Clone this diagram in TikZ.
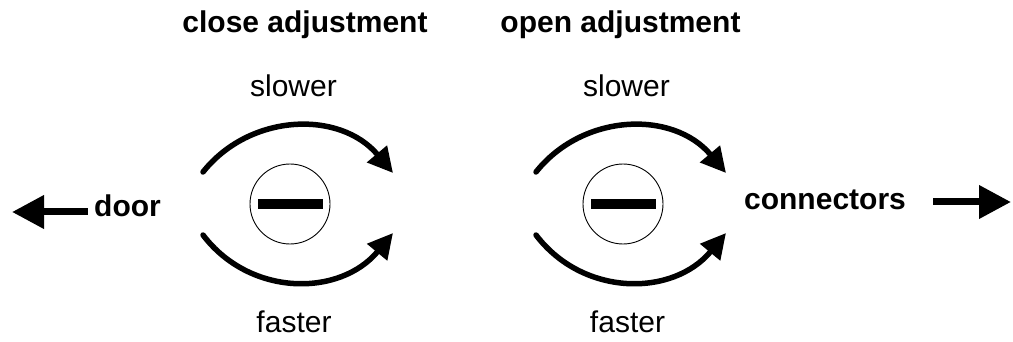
\documentclass[tikz,border=0pt]{standalone}
\usepackage{fontspec}
\setmainfont{Liberation Sans}
\usetikzlibrary{arrows.meta}
\tikzset{
  lbl/.style={inner sep=0pt, anchor=base, font=\fontsize{30}{36}\selectfont},
  blbl/.style={lbl, font=\fontsize{30}{36}\selectfont\bfseries},
  knob/.style={circle, draw, line width=0.9pt, minimum size=80pt, inner sep=0pt},
  bar/.style={fill=black, draw=none},
  turn/.style={line width=5.5pt, line cap=round, -{Triangle[length=25pt,width=25pt]}},
  bigarrow/.style={line width=7pt, -{Triangle[length=32pt,width=32pt]}}
}
\begin{document}
\begin{tikzpicture}[x=1pt,y=1pt]
\useasboundingbox (0,0) rectangle (1013,-342);
% titles
\node[blbl] (tclose) at (305,-33) {close adjustment};
\node[blbl] (topen) at (620.5,-33) {open adjustment};
\node[lbl] (s1) at (293.5,-97) {slower};
\node[lbl] (s2) at (626.5,-97) {slower};
\node[lbl] (f1) at (294,-332) {faster};
\node[lbl] (f2) at (627.5,-332) {faster};
\node[blbl] (door) at (127.5,-217) {door};
\node[blbl] (conn) at (825,-210) {connectors};
% knobs
\node[knob] (k1) at (290,-204) {};
\node[knob] (k2) at (623,-204) {};
\fill[bar] ([xshift=-32.5pt,yshift=-5pt]k1.center) rectangle ([xshift=32.5pt,yshift=5pt]k1.center);
\fill[bar] ([xshift=-32.5pt,yshift=-5pt]k2.center) rectangle ([xshift=32.5pt,yshift=5pt]k2.center);
% arc end points
\coordinate (a1s) at (203,-172);
\coordinate (a1e) at (393,-173);
\coordinate (b1s) at (203,-235);
\coordinate (b1e) at (393,-233);
\coordinate (a2s) at (536,-172);
\coordinate (a2e) at (726,-173);
\coordinate (b2s) at (536,-235);
\coordinate (b2e) at (726,-233);
\draw[turn] (a1s) .. controls (250,-113) and (340,-110) .. (a1e);
\draw[turn] (b1s) .. controls (250,-297) and (340,-297) .. (b1e);
\draw[turn] (a2s) .. controls (583,-113) and (673,-110) .. (a2e);
\draw[turn] (b2s) .. controls (583,-297) and (673,-297) .. (b2e);
% side arrows
\coordinate (dl) at (12,-212);
\coordinate (cr) at (1011,-202);
\draw[bigarrow] (door.west |- 0,-212) ++(-6,0) -- (dl);
\draw[bigarrow] (conn.east |- 0,-202) ++(27,0) -- (cr);
\end{tikzpicture}
\end{document}
